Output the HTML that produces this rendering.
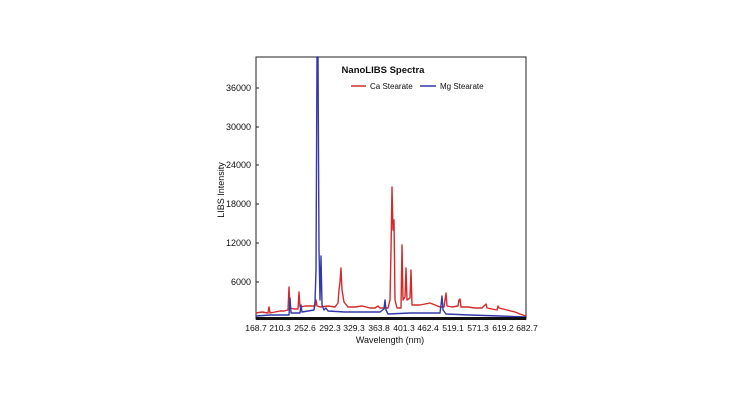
<!DOCTYPE html>
<html><head><style>
html,body{margin:0;padding:0;background:#fff;width:740px;height:400px;overflow:hidden}
svg{display:block}
text{font-family:"Liberation Sans",sans-serif;fill:#111}
</style></head><body>
<svg width="740" height="400" viewBox="0 0 740 400">
<rect x="256" y="57" width="270" height="262" fill="#fff" stroke="#222" stroke-width="1"/>
<g font-size="9" text-anchor="end">
<text x="251" y="91">36000</text>
<text x="251" y="130">30000</text>
<text x="251" y="168">24000</text>
<text x="251" y="207">18000</text>
<text x="251" y="246">12000</text>
<text x="251" y="285">6000</text>
</g>
<g stroke="#222" stroke-width="1">
<line x1="256" y1="88" x2="259" y2="88"/><line x1="256" y1="127" x2="259" y2="127"/>
<line x1="256" y1="165" x2="259" y2="165"/><line x1="256" y1="204" x2="259" y2="204"/>
<line x1="256" y1="243" x2="259" y2="243"/><line x1="256" y1="282" x2="259" y2="282"/>
</g>
<text transform="translate(224,190) rotate(-90)" font-size="9" text-anchor="middle">LIBS Intensity</text>
<g font-size="8.6" text-anchor="middle">
<text x="256" y="331">168.7</text><text x="280" y="331">210.3</text><text x="305" y="331">252.6</text>
<text x="330" y="331">292.3</text><text x="354" y="331">329.3</text><text x="379" y="331">363.8</text>
<text x="404" y="331">401.3</text><text x="428" y="331">462.4</text><text x="453" y="331">519.1</text>
<text x="478" y="331">571.3</text><text x="503" y="331">619.2</text><text x="527" y="331">682.7</text>
</g>
<text x="390" y="343" font-size="9" text-anchor="middle">Wavelength (nm)</text>
<text x="383" y="73" font-size="9.5" font-weight="bold" text-anchor="middle">NanoLIBS Spectra</text>
<line x1="351" y1="86" x2="366" y2="86" stroke="#d42a2a" stroke-width="1.5"/>
<text x="370" y="89" font-size="8">Ca Stearate</text>
<line x1="420" y1="86" x2="436" y2="86" stroke="#3338a8" stroke-width="1.5"/>
<text x="440" y="89" font-size="8">Mg Stearate</text>
<polyline fill="none" stroke="#d42a2a" stroke-width="1.4" stroke-linejoin="round" points="256,313 262,312 268,313 269,307 270,313 275,312 280,311 284,311 288,310 289,287 290,308 294,309 298,309 299,292 300,307 305,306 310,306 315,306 316,300 317,306 320,307 328,306 335,307 338,303 339,290 340,282 341,268 342,290 344,302 348,307 355,307 362,306 370,308 375,308 378,306 380,308 388,308 390,300 391,250 392,187 393,230 394,220 395,300 397,308 401,308 402,245 403,300 405,297 406,268 407,300 410,298 411,270 412,305 420,305 430,303 440,307 444,307 445,300 446,293 447,306 452,307 458,306 459,300 460,299 461,307 468,307 475,308 482,308 485,305 486,304 487,308 497,310 498,306 499,308 507,310 515,312 520,314 526,316"/>
<polyline fill="none" stroke="#3338a8" stroke-width="1.4" stroke-linejoin="round" points="256,316 270,315 286,315 289,315 290,298 291,313 300,313 301,305 302,312 314,310 315,302 316,270 317,57 318,57 319,250 320,300 321,256 322,305 324,310 326,308 328,311 345,312 360,312 380,312 384,309 385,300 386,310 388,314 410,313 440,313 441,305 442,296 443,310 446,314 470,315 500,316 526,317"/>
<rect x="256" y="317" width="270" height="3" fill="#111"/>
</svg>
</body></html>
